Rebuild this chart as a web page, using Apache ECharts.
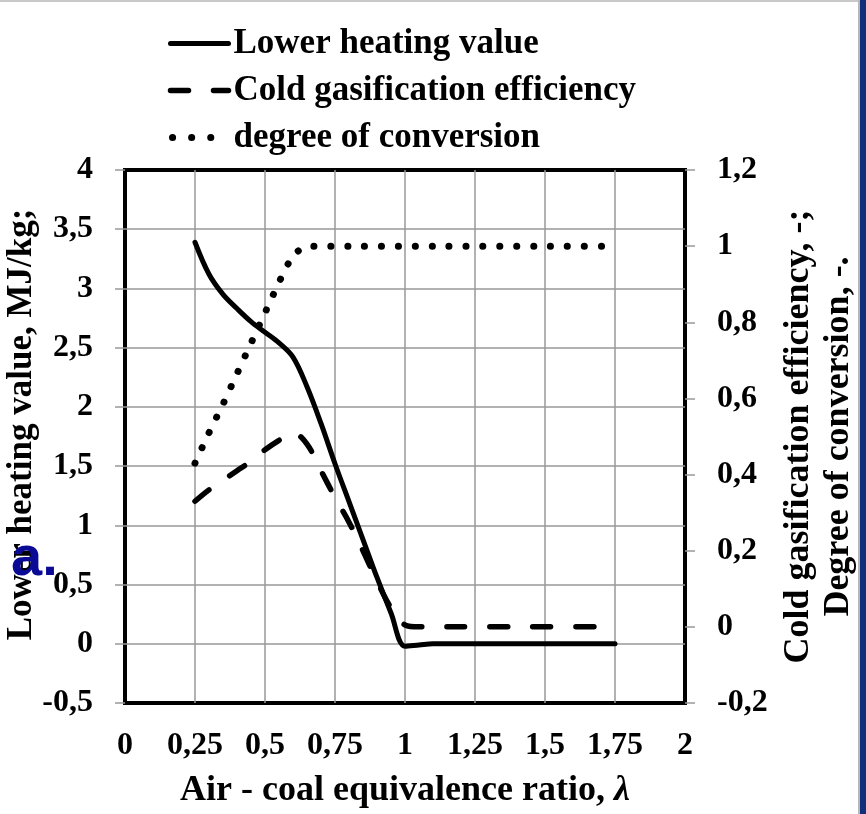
<!DOCTYPE html>
<html>
<head>
<meta charset="utf-8">
<script src="https://cdn.jsdelivr.net/npm/echarts@6/dist/echarts.min.js"></script>
<style>
html,body{margin:0;padding:0;background:#fff;}
#chart{width:866px;height:814px;}
</style>
</head>
<body>
<div id="chart"></div>
<script>
// Air - coal equivalence ratio (x)
const lambdaX = [0.25,0.3,0.35,0.4,0.45,0.5,0.55,0.6,0.65,0.7,0.75,0.8,0.85,0.9,0.95,1.0,1.05,1.1,1.25,1.5,1.75];
// Lower heating value, MJ/kg (left axis)
const lowerHeatingValue = [3.39,3.12,2.95,2.83,2.72,2.63,2.54,2.42,2.17,1.86,1.52,1.20,0.88,0.56,0.26,-0.02,-0.01,0,0,0,0];
// Cold gasification efficiency (right axis)
const coldGasEfficiency = [0.33,0.36,0.385,0.41,0.435,0.465,0.49,0.51,0.48,0.41,0.34,0.275,0.2,0.12,0.05,0.005,0,0,0,0,0];
// Degree of conversion (right axis)
const degreeConversion = [0.43,0.51,0.585,0.665,0.745,0.825,0.905,0.975,1.0,1.0,1.0,1.0,1.0,1.0,1.0,1.0,1.0,1.0,1.0,1.0,1.0];

const seriesNames = ['Lower heating value','Cold gasification efficiency','degree of conversion'];

function pair(xs, ys){ return xs.map((x,i)=>[x, ys[i]]); }
function comma(v){ return String(+v.toFixed(2)).replace('.', ','); }

const serif = '"Liberation Serif","Times New Roman",serif';
const chart = echarts.init(document.getElementById('chart'), null, {renderer:'canvas'});
const hideSym = {color:'transparent', borderWidth:0, opacity:0};

chart.setOption({
  backgroundColor:'#fff',
  animation:false,
  grid:{left:125,right:181,top:170,bottom:111,show:true,borderColor:'#000',borderWidth:4,
    backgroundColor:'transparent', containLabel:false, outerBoundsMode:'none'},
  legend:{
    orient:'vertical', left:162, top:21, itemWidth:58, itemHeight:20, itemGap:12,
    textStyle:{fontFamily:serif,fontWeight:'bold',fontSize:35,color:'#000',lineHeight:35},
    data:[
      {name:seriesNames[0], itemStyle:hideSym, lineStyle:{width:5,type:'solid'}},
      {name:seriesNames[1], itemStyle:hideSym, lineStyle:{width:5.5,type:[18,25],cap:'round'}},
      {name:seriesNames[2], itemStyle:hideSym, lineStyle:{width:7,type:[0.1,19],dashOffset:-2,cap:'round'}}
    ]
  },
  xAxis:{
    type:'value', min:0, max:2, interval:0.25,
    axisLine:{show:false}, axisTick:{show:false},
    splitLine:{show:true,showMinLine:false,showMaxLine:false,lineStyle:{color:'#999',width:1.5}},
    axisLabel:{margin:27,fontFamily:serif,fontWeight:'bold',fontSize:32,color:'#000',formatter:comma},
    name:'Air - coal equivalence ratio, {l|λ}', nameLocation:'middle', nameGap:70,
    nameTextStyle:{fontFamily:serif,fontWeight:'bold',fontSize:36,color:'#000',
      rich:{l:{fontFamily:serif,fontStyle:'italic',fontWeight:'bold',fontSize:36,color:'#000'}}}
  },
  yAxis:[
    {
      type:'value', min:-0.5, max:4, interval:0.5, position:'left',
      axisLine:{show:false},
      axisTick:{show:true,length:10,lineStyle:{color:'#999',width:1.5}},
      splitLine:{show:true,showMinLine:false,showMaxLine:false,lineStyle:{color:'#999',width:1.5}},
      axisLabel:{margin:32,fontFamily:serif,fontWeight:'bold',fontSize:32,color:'#000',formatter:comma},
      name:'Lower heating value, MJ/kg;', nameLocation:'middle', nameRotate:90, nameGap:86, nameMoveOverlap:false,
      nameTextStyle:{fontFamily:serif,fontWeight:'bold',fontSize:35,color:'#000',padding:[0,0,0,24]}
    },
    {
      type:'value', min:-0.2, max:1.2, interval:0.2, position:'right',
      axisLine:{show:false},
      axisTick:{show:true,length:10,lineStyle:{color:'#999',width:1.5}},
      splitLine:{show:false},
      axisLabel:{margin:32,fontFamily:serif,fontWeight:'bold',fontSize:32,color:'#000',formatter:comma},
      name:'Cold gasification efficiency, -;\nDegree of conversion, -.', nameLocation:'middle', nameRotate:90, nameGap:80,
      nameTextStyle:{fontFamily:serif,fontWeight:'bold',fontSize:36,lineHeight:40,color:'#000'}
    }
  ],
  series:[
    {name:seriesNames[0], type:'line', yAxisIndex:0, data:pair(lambdaX,lowerHeatingValue),
      smooth:0.35, showSymbol:false, symbol:'none', color:'#000',
      lineStyle:{color:'#000',width:5,cap:'round',join:'round'}},
    {name:seriesNames[1], type:'line', yAxisIndex:1, data:pair(lambdaX,coldGasEfficiency),
      smooth:0.35, showSymbol:false, symbol:'none', color:'#000',
      lineStyle:{color:'#000',width:5.5,type:[18,25],cap:'round'}},
    {name:seriesNames[2], type:'line', yAxisIndex:1, data:pair(lambdaX,degreeConversion),
      smooth:0.2, showSymbol:false, symbol:'none', color:'#000',
      lineStyle:{color:'#000',width:7,type:[0.1,16.8],cap:'round'}}
  ],
  graphic:[
    {type:'rect', left:0, top:0, shape:{width:866,height:2}, style:{fill:'#c8c8c8'}, silent:true},
    {type:'rect', left:858, top:0, shape:{width:2,height:814}, style:{fill:'#b8b8b8'}, silent:true},
    {type:'rect', left:860, top:0, shape:{width:6,height:814}, style:{fill:'#12307a'}, silent:true},
    {type:'text', left:11, top:532, z:100, style:{text:'a.', fontFamily:'"Liberation Sans",Arial,sans-serif', fontWeight:'bold', fontSize:56, fill:'#0a0a96'}, silent:true}
  ]
});
</script>
</body>
</html>
